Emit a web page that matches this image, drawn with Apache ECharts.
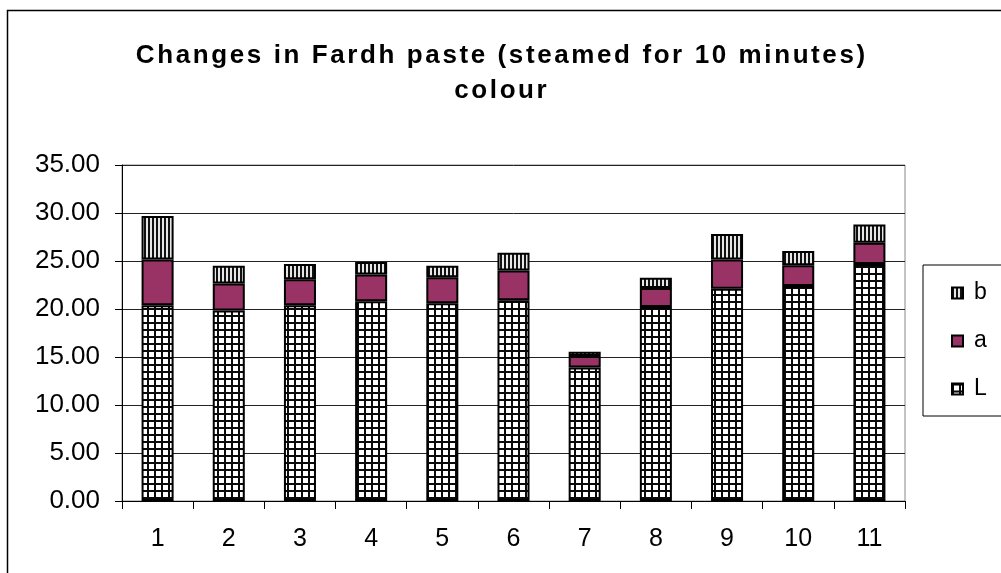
<!DOCTYPE html>
<html>
<head>
<meta charset="utf-8">
<script src="https://cdn.jsdelivr.net/npm/echarts@6/dist/echarts.min.js"></script>
<style>
  html, body { margin: 0; padding: 0; background: #fff; }
  #chart { width: 1001px; height: 573px; }
</style>
</head>
<body>
<div id="chart"></div>
<script>
// Sample numbers on the category axis
const categories = ['1', '2', '3', '4', '5', '6', '7', '8', '9', '10', '11'];
// Colour components, stacked L -> a -> b
const valuesL = [20.4, 19.85, 20.4, 20.8, 20.6, 20.9, 13.9, 20.2, 22.1, 22.4, 24.7];
const valuesA = [4.75, 2.8, 2.7, 2.8, 2.7, 3.1, 1.2, 2.0, 3.05, 2.15, 2.2];
const valuesB = [4.55, 1.85, 1.6, 1.3, 1.2, 1.85, 0.45, 1.05, 2.65, 1.5, 1.9];
const seriesNames = ['b', 'a', 'L'];
const titleLines = ['Changes in Fardh paste (steamed for 10 minutes)', 'colour'];

// Fill patterns: checked grid for L, vertical stripes for b
function makeGrid() {
  const c = document.createElement('canvas');
  c.width = 7; c.height = 7;
  const g = c.getContext('2d');
  g.fillStyle = '#ffffff'; g.fillRect(0, 0, 7, 7);
  g.fillStyle = '#0a0a0a';
  g.fillRect(0, 0, 7, 2);
  g.fillRect(0, 0, 2, 7);
  return c;
}
function makeStripes() {
  const c = document.createElement('canvas');
  c.width = 4; c.height = 4;
  const g = c.getContext('2d');
  g.fillStyle = '#e6e6e6'; g.fillRect(0, 0, 4, 4);
  g.fillStyle = '#111111'; g.fillRect(0, 0, 2, 4);
  return c;
}
const gridFill = { image: makeGrid(), repeat: 'repeat' };
const stripeFill = { image: makeStripes(), repeat: 'repeat' };

const FONT = '"Liberation Sans", Arial, sans-serif';

// Title set one glyph per rich fragment so the letters get a little tracking
function tracked(line) {
  return Array.from(line).map(ch => '{c|' + ch + '}').join('');
}
const titleText = titleLines.map(tracked).join('\n');

const chart = echarts.init(document.getElementById('chart'), null, { renderer: 'canvas' });

function barSeries(name, data, fill) {
  return {
    name: name,
    type: 'bar',
    stack: 'colour',
    data: data,
    barWidth: '45%',
    itemStyle: { color: fill, borderColor: '#000', borderWidth: 2 },
    emphasis: { disabled: true },
    animation: false
  };
}

chart.setOption({
  animation: false,
  backgroundColor: '#ffffff',
  title: {
    text: titleText,
    left: 'center',
    top: 33,
    textStyle: {
      fontFamily: FONT, fontWeight: 'bold', fontSize: 26, color: '#000', lineHeight: 35,
      rich: {
        c: {
          fontFamily: FONT, fontWeight: 'bold', fontSize: 26, color: '#000',
          lineHeight: 35, padding: [0, 1.3]
        }
      }
    }
  },
  graphic: [{
    type: 'rect',
    shape: { x: 7.5, y: 10.5, width: 1200, height: 700 },
    style: { fill: 'none', stroke: '#000', lineWidth: 1.5 },
    silent: true
  }],
  legend: {
    orient: 'vertical',
    left: 923,
    top: 265,
    data: seriesNames,
    itemWidth: 11,
    itemHeight: 11,
    itemGap: 24,
    padding: [16, 40, 15, 28],
    borderColor: '#000',
    borderWidth: 1,
    icon: 'rect',
    textStyle: {
      fontFamily: FONT, fontSize: 23, color: '#000', lineHeight: 24,
      padding: [0, 0, 0, 6]
    },
    selectedMode: false
  },
  grid: {
    left: 122, right: 96, top: 165, bottom: 72,
    show: true, borderColor: '#888', borderWidth: 1
  },
  xAxis: {
    type: 'category',
    data: categories,
    axisLine: { lineStyle: { color: '#000', width: 1 } },
    axisTick: { show: true, length: 8, lineStyle: { color: '#000' } },
    axisLabel: { fontFamily: FONT, fontSize: 25, color: '#000', margin: 26 },
    splitLine: { show: false }
  },
  yAxis: {
    type: 'value',
    min: 0, max: 35, interval: 5,
    axisLine: { show: true, lineStyle: { color: '#000', width: 1 } },
    axisTick: { show: true, length: 7, lineStyle: { color: '#000' } },
    axisLabel: {
      fontFamily: FONT, fontSize: 26, color: '#000', margin: 22,
      formatter: v => v.toFixed(2)
    },
    splitLine: { show: true, lineStyle: { color: '#222', width: 1 } }
  },
  series: [
    barSeries('L', valuesL, gridFill),
    barSeries('a', valuesA, '#993366'),
    barSeries('b', valuesB, stripeFill)
  ]
});
</script>
</body>
</html>
